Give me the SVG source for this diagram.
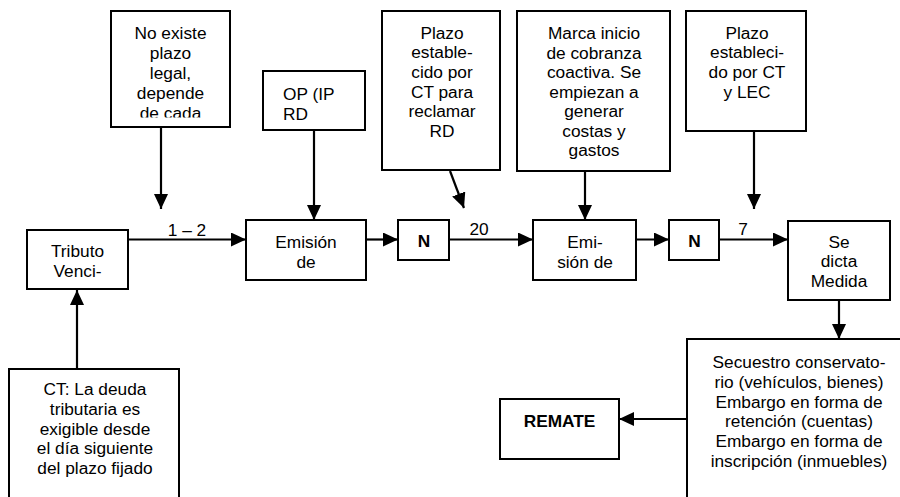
<svg xmlns="http://www.w3.org/2000/svg" width="900" height="497" viewBox="0 0 900 497">
<style>
  .box{fill:#fff;stroke:#000;stroke-width:2}
  .t{font-family:"Liberation Sans",Arial,sans-serif;font-size:17.3px;fill:#000;text-anchor:middle}
  .l{text-anchor:start}
  .b{font-weight:bold}
  .c{stroke:#000;stroke-width:2.2;fill:none;marker-end:url(#ah)}
</style>
<defs>
  <marker id="ah" markerUnits="userSpaceOnUse" markerWidth="16" markerHeight="15" refX="15" refY="7" orient="auto">
    <path d="M0,0 L15,7 L0,14 z" fill="#000"/>
  </marker>
  <clipPath id="clip1"><rect x="111" y="11" width="119" height="106.5"/></clipPath>
  <clipPath id="clip4"><rect x="517" y="11" width="153" height="148"/></clipPath>
</defs>
<rect width="900" height="497" fill="#fff"/>

<g id="connectors">
  <line class="c" x1="161" y1="127" x2="161" y2="209"/>
  <line class="c" x1="314" y1="130" x2="314" y2="220"/>
  <line class="c" x1="450" y1="171" x2="464" y2="208"/>
  <line class="c" x1="585" y1="171" x2="585" y2="220"/>
  <line class="c" x1="754" y1="131" x2="754" y2="209"/>
  <line class="c" x1="128" y1="239.5" x2="246" y2="239.5"/>
  <line class="c" x1="366" y1="239.5" x2="398" y2="239.5"/>
  <line class="c" x1="449" y1="239.5" x2="533" y2="239.5"/>
  <line class="c" x1="636" y1="239.5" x2="669" y2="239.5"/>
  <line class="c" x1="719" y1="239.5" x2="788" y2="239.5"/>
  <line class="c" x1="839" y1="300" x2="839" y2="339"/>
  <line class="c" x1="77" y1="369" x2="77" y2="290"/>
  <line class="c" x1="687" y1="419" x2="619" y2="419"/>
  <text class="t" x="187" y="235.5">1 – 2</text>
  <text class="t" x="479" y="235">20</text>
  <text class="t" x="743" y="235">7</text>
</g>

<g id="n-noexiste">
  <rect class="box" x="111" y="11" width="119" height="116"/>
  <g clip-path="url(#clip1)">
    <text class="t" x="170.5" y="39">No existe</text>
    <text class="t" x="170.5" y="59">plazo</text>
    <text class="t" x="170.5" y="79">legal,</text>
    <text class="t" x="170.5" y="98.5">depende</text>
    <text class="t" x="170.5" y="118.5">de cada</text>
  </g>
</g>

<g id="n-op">
  <rect class="box" x="263" y="71" width="102" height="59"/>
  <text class="t l" x="283" y="100">OP (IP</text>
  <text class="t l" x="283" y="119.5">RD</text>
</g>

<g id="n-plazo-rd">
  <rect class="box" x="382" y="11" width="118" height="159"/>
  <text class="t" x="442" y="38.5">Plazo</text>
  <text class="t" x="442" y="58">estable-</text>
  <text class="t" x="442" y="78">cido por</text>
  <text class="t" x="442" y="97.5">CT para</text>
  <text class="t" x="442" y="117">reclamar</text>
  <text class="t" x="442" y="137">RD</text>
</g>

<g id="n-marca">
  <rect class="box" x="517" y="11" width="153" height="160"/>
  <g clip-path="url(#clip4)">
    <text class="t" x="594" y="39">Marca inicio</text>
    <text class="t" x="594" y="58.5">de cobranza</text>
    <text class="t" x="594" y="78">coactiva. Se</text>
    <text class="t" x="594" y="97.5">empiezan a</text>
    <text class="t" x="594" y="117">generar</text>
    <text class="t" x="594" y="136.5">costas y</text>
    <text class="t" x="594" y="156">gastos</text>
  </g>
</g>

<g id="n-plazo-lec">
  <rect class="box" x="686" y="11" width="120" height="120"/>
  <text class="t" x="747" y="38.5">Plazo</text>
  <text class="t" x="747" y="58">estableci-</text>
  <text class="t" x="747" y="78">do por CT</text>
  <text class="t" x="747" y="97.5">y LEC</text>
</g>

<g id="n-tributo">
  <rect class="box" x="27" y="230" width="101" height="59"/>
  <text class="t" x="77.5" y="257">Tributo</text>
  <text class="t" x="77.5" y="277">Venci-</text>
</g>

<g id="n-emision1">
  <rect class="box" x="246" y="220" width="120" height="60"/>
  <text class="t" x="306" y="248">Emisión</text>
  <text class="t" x="306" y="267.5">de</text>
</g>

<g id="n-n1">
  <rect class="box" x="398" y="220" width="51" height="40"/>
  <text class="t b" x="424" y="247">N</text>
</g>

<g id="n-emision2">
  <rect class="box" x="533" y="220" width="103" height="60"/>
  <text class="t" x="585" y="248">Emi-</text>
  <text class="t" x="585" y="267.5">sión de</text>
</g>

<g id="n-n2">
  <rect class="box" x="669" y="220" width="50" height="40"/>
  <text class="t b" x="694.5" y="247">N</text>
</g>

<g id="n-medida">
  <rect class="box" x="788" y="221" width="102" height="79"/>
  <text class="t" x="839" y="247.5">Se</text>
  <text class="t" x="839" y="267">dicta</text>
  <text class="t" x="839" y="287">Medida</text>
</g>

<g id="n-embargos">
  <rect class="box" x="687" y="339" width="230" height="180"/>
  <text class="t" x="799" y="368">Secuestro conservato-</text>
  <text class="t" x="799" y="388">rio (vehículos, bienes)</text>
  <text class="t" x="799" y="407.5">Embargo en forma de</text>
  <text class="t" x="799" y="427">retención (cuentas)</text>
  <text class="t" x="799" y="447">Embargo en forma de</text>
  <text class="t" x="799" y="466.5">inscripción (inmuebles)</text>
</g>

<g id="n-remate">
  <rect class="box" x="500" y="399" width="119" height="60"/>
  <text class="t b" x="559.5" y="427">REMATE</text>
</g>

<g id="n-ct">
  <rect class="box" x="9" y="369" width="170" height="150"/>
  <text class="t" x="95" y="395">CT: La deuda</text>
  <text class="t" x="95" y="415">tributaria es</text>
  <text class="t" x="95" y="434.5">exigible desde</text>
  <text class="t" x="95" y="454">el día siguiente</text>
  <text class="t" x="95" y="473.5">del plazo fijado</text>
</g>
</svg>
